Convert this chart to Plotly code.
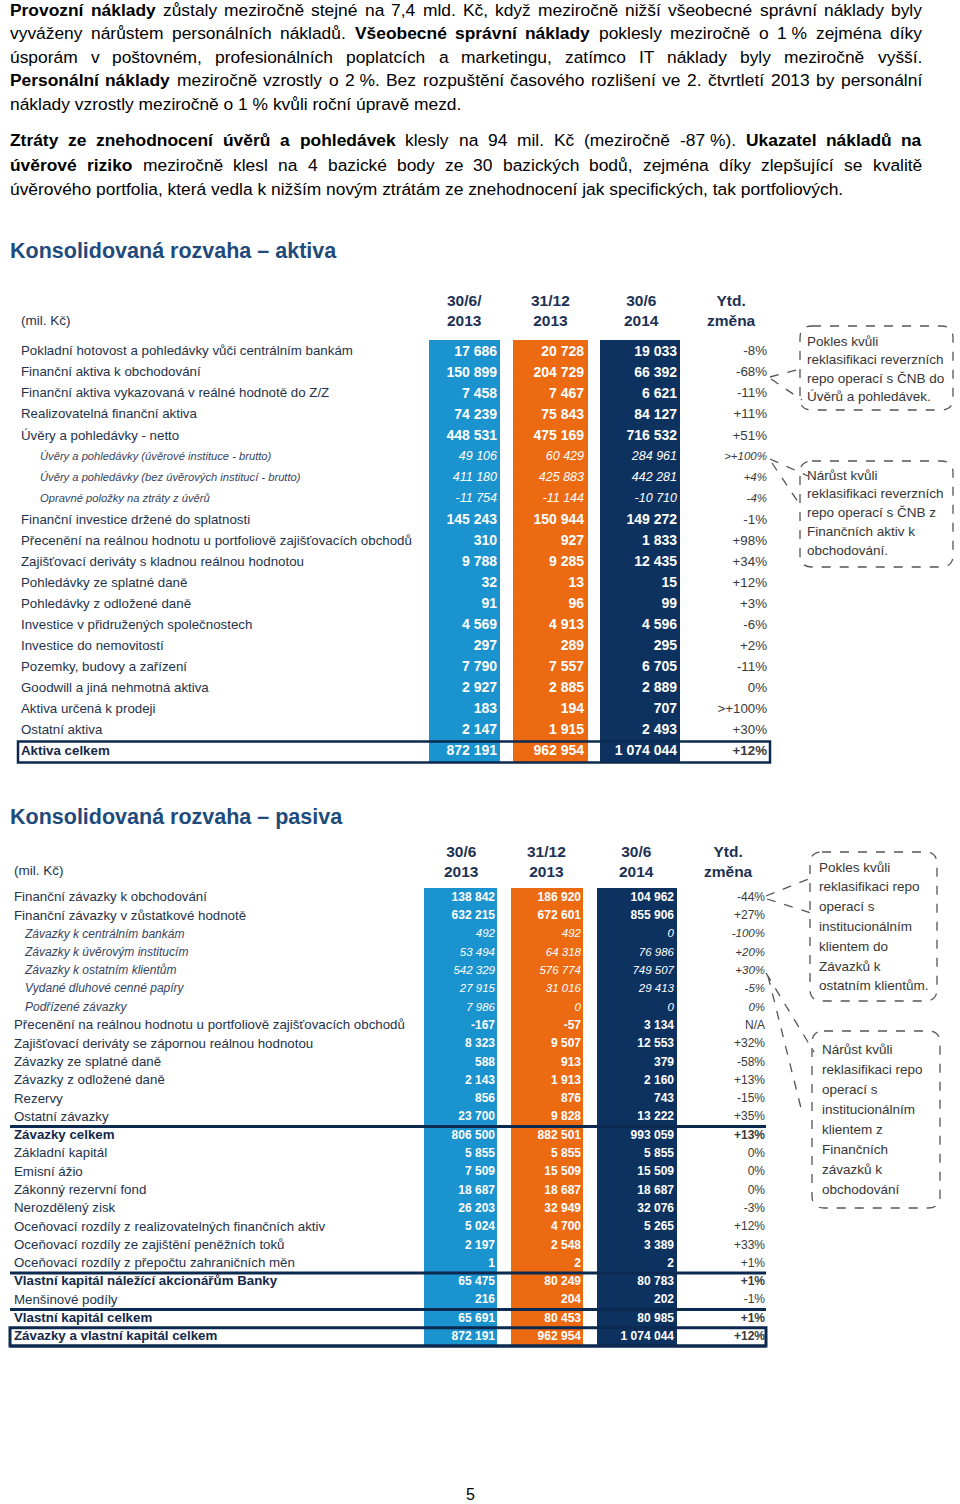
import unicodedata
import plotly.graph_objects as go

W, H = 960, 1504

# ---------------- data: aktiva ----------------
aktiva_labels = [
    "Pokladní hotovost a pohledávky vůči centrálním bankám",
    "Finanční aktiva k obchodování",
    "Finanční aktiva vykazovaná v reálné hodnotě do Z/Z",
    "Realizovatelná finanční aktiva",
    "Úvěry a pohledávky - netto",
    "Úvěry a pohledávky (úvěrové instituce - brutto)",
    "Úvěry a pohledávky (bez úvěrových institucí - brutto)",
    "Opravné položky na ztráty z úvěrů",
    "Finanční investice držené do splatnosti",
    "Přecenění na reálnou hodnotu u portfoliově zajišťovacích obchodů",
    "Zajišťovací deriváty s kladnou reálnou hodnotou",
    "Pohledávky ze splatné daně",
    "Pohledávky z odložené daně",
    "Investice v přidružených společnostech",
    "Investice do nemovitostí",
    "Pozemky, budovy a zařízení",
    "Goodwill a jiná nehmotná aktiva",
    "Aktiva určená k prodeji",
    "Ostatní aktiva",
    "Aktiva celkem",
]
aktiva_2013_06 = [17686, 150899, 7458, 74239, 448531, 49106, 411180, -11754, 145243, 310,
                  9788, 32, 91, 4569, 297, 7790, 2927, 183, 2147, 872191]
aktiva_2013_12 = [20728, 204729, 7467, 75843, 475169, 60429, 425883, -11144, 150944, 927,
                  9285, 13, 96, 4913, 289, 7557, 2885, 194, 1915, 962954]
aktiva_2014_06 = [19033, 66392, 6621, 84127, 716532, 284961, 442281, -10710, 149272, 1833,
                  12435, 15, 99, 4596, 295, 6705, 2889, 707, 2493, 1074044]
aktiva_ytd = ["-8%", "-68%", "-11%", "+11%", "+51%", ">+100%", "+4%", "-4%", "-1%", "+98%",
              "+34%", "+12%", "+3%", "-6%", "+2%", "-11%", "0%", ">+100%", "+30%", "+12%"]
aktiva_kind = ["n"] * 5 + ["i"] * 3 + ["n"] * 11 + ["b"]
aktiva_periods = [("30/6/", "2013"), ("31/12", "2013"), ("30/6", "2014"), ("Ytd.", "změna")]

# ---------------- data: pasiva ----------------
pasiva_labels = [
    "Finanční závazky k obchodování",
    "Finanční závazky v zůstatkové hodnotě",
    "Závazky k centrálním bankám",
    "Závazky k úvěrovým institucím",
    "Závazky k ostatním klientům",
    "Vydané dluhové cenné papíry",
    "Podřízené závazky",
    "Přecenění na reálnou hodnotu u portfoliově zajišťovacích obchodů",
    "Zajišťovací deriváty se zápornou reálnou hodnotou",
    "Závazky ze splatné daně",
    "Závazky z odložené daně",
    "Rezervy",
    "Ostatní závazky",
    "Závazky celkem",
    "Základní kapitál",
    "Emisní ážio",
    "Zákonný rezervní fond",
    "Nerozdělený zisk",
    "Oceňovací rozdíly z realizovatelných finančních aktiv",
    "Oceňovací rozdíly ze zajištění peněžních toků",
    "Oceňovací rozdíly z přepočtu zahraničních měn",
    "Vlastní kapitál náležící akcionářům Banky",
    "Menšinové podíly",
    "Vlastní kapitál celkem",
    "Závazky a vlastní kapitál celkem",
]
pasiva_2013_06 = [138842, 632215, 492, 53494, 542329, 27915, 7986, -167, 8323, 588, 2143, 856,
                  23700, 806500, 5855, 7509, 18687, 26203, 5024, 2197, 1, 65475, 216, 65691, 872191]
pasiva_2013_12 = [186920, 672601, 492, 64318, 576774, 31016, 0, -57, 9507, 913, 1913, 876,
                  9828, 882501, 5855, 15509, 18687, 32949, 4700, 2548, 2, 80249, 204, 80453, 962954]
pasiva_2014_06 = [104962, 855906, 0, 76986, 749507, 29413, 0, 3134, 12553, 379, 2160, 743,
                  13222, 993059, 5855, 15509, 18687, 32076, 5265, 3389, 2, 80783, 202, 80985, 1074044]
pasiva_ytd = ["-44%", "+27%", "-100%", "+20%", "+30%", "-5%", "0%", "N/A", "+32%", "-58%",
              "+13%", "-15%", "+35%", "+13%", "0%", "0%", "0%", "-3%", "+12%", "+33%",
              "+1%", "+1%", "-1%", "+1%", "+12%"]
pasiva_kind = ["n"] * 2 + ["i"] * 5 + ["n"] * 6 + ["b"] + ["n"] * 7 + ["b", "n", "b", "b"]
pasiva_periods = [("30/6", "2013"), ("31/12", "2013"), ("30/6", "2014"), ("Ytd.", "změna")]

# ---------------- text content ----------------
para_lines = [
    ([("Provozní náklady", 1), ("zůstaly meziročně stejné na 7,4 mld. Kč, když meziročně nižší všeobecné správní náklady byly", 0)], True),
    ([("vyváženy nárůstem personálních nákladů.", 0), ("Všeobecné správní náklady", 1), ("poklesly meziročně o 1\u00a0% zejména díky", 0)], True),
    ([("úsporám v poštovném, profesionálních poplatcích a marketingu, zatímco IT náklady byly meziročně vyšší.", 0)], True),
    ([("Personální náklady", 1), ("meziročně vzrostly o 2\u00a0%. Bez rozpuštění časového rozlišení ve 2. čtvrtletí 2013 by personální", 0)], True),
    ([("náklady vzrostly meziročně o 1\u00a0% kvůli roční úpravě mezd.", 0)], False),
    ([("Ztráty ze znehodnocení úvěrů a pohledávek", 1), ("klesly na 94 mil. Kč (meziročně -87\u00a0%).", 0), ("Ukazatel nákladů na", 1)], True),
    ([("úvěrové riziko", 1), ("meziročně klesl na 4 bazické body ze 30 bazických bodů, zejména díky zlepšující se kvalitě", 0)], True),
    ([("úvěrového portfolia, která vedla k nižším novým ztrátám ze znehodnocení jak specifických, tak portfoliových.", 0)], False),
]
title_aktiva = "Konsolidovaná rozvaha – aktiva"
title_pasiva = "Konsolidovaná rozvaha – pasiva"
unit_label = "(mil. Kč)"
note_aktiva_1 = ["Pokles kvůli", "reklasifikaci reverzních", "repo operací s ČNB do", "Úvěrů a pohledávek."]
note_aktiva_2 = ["Nárůst kvůli", "reklasifikaci reverzních", "repo operací s ČNB z", "Finančních aktiv k", "obchodování."]
note_pasiva_1 = ["Pokles kvůli", "reklasifikaci repo", "operací s", "institucionálním", "klientem do", "Závazků k", "ostatním klientům."]
note_pasiva_2 = ["Nárůst kvůli", "reklasifikaci repo", "operací s", "institucionálním", "klientem z", "Finančních", "závazků k", "obchodování"]
page_number = "5"

# ---------------- styles ----------------
BLUE = "#1b93cf"
ORANGE = "#ec6a12"
NAVY = "#0e3260"
LINE_NAVY = "#0c2a50"
HEAD = "#1c3154"
LAB = "#24324c"
LAB_I = "#364463"
YTD_C = "#3a3a3a"
TITLE_C = "#1f4a7c"
NOTE_C = "#363636"
DASH_C = "#555555"
SANS = "Liberation Sans"

REG = {' ': 278, 'a': 556, 'b': 556, 'c': 500, 'd': 556, 'e': 556, 'f': 278, 'g': 556, 'h': 556,
       'i': 222, 'j': 222, 'k': 500, 'l': 222, 'm': 833, 'n': 556, 'o': 556, 'p': 556, 'q': 556,
       'r': 333, 's': 500, 't': 278, 'u': 556, 'v': 500, 'w': 722, 'x': 500, 'y': 500, 'z': 500,
       'A': 667, 'B': 667, 'C': 722, 'D': 722, 'E': 667, 'F': 611, 'G': 778, 'H': 722, 'I': 278,
       'J': 500, 'K': 667, 'L': 556, 'M': 833, 'N': 722, 'O': 778, 'P': 667, 'Q': 778, 'R': 722,
       'S': 667, 'T': 611, 'U': 722, 'V': 667, 'W': 944, 'X': 667, 'Y': 667, 'Z': 611,
       '.': 278, ',': 278, '%': 889, '-': 333, '(': 333, ')': 333, ':': 278, '/': 278}
BOLD = {' ': 278, 'a': 556, 'b': 611, 'c': 556, 'd': 611, 'e': 556, 'f': 333, 'g': 611, 'h': 611,
        'i': 278, 'j': 278, 'k': 556, 'l': 278, 'm': 889, 'n': 611, 'o': 611, 'p': 611, 'q': 611,
        'r': 389, 's': 556, 't': 333, 'u': 611, 'v': 556, 'w': 778, 'x': 556, 'y': 556, 'z': 500,
        'A': 722, 'B': 722, 'C': 722, 'D': 722, 'E': 667, 'F': 611, 'G': 778, 'H': 722, 'I': 278,
        'J': 556, 'K': 722, 'L': 611, 'M': 833, 'N': 722, 'O': 778, 'P': 667, 'Q': 778, 'R': 722,
        'S': 667, 'T': 611, 'U': 722, 'V': 667, 'W': 944, 'X': 667, 'Y': 667, 'Z': 611,
        '.': 278, ',': 278, '%': 889, '-': 333, '(': 333, ')': 333, ':': 333, '/': 278}


def text_em(s, bold):
    tbl = BOLD if bold else REG
    tot = 0
    for ch in s:
        if ch.isdigit():
            tot += 556
        elif ch in tbl:
            tot += tbl[ch]
        elif ch == '\u00a0':
            tot += 278
        elif ch in 'íÍ':
            tot += 278
        else:
            base = unicodedata.normalize('NFD', ch)[0]
            tot += tbl.get(base, 556)
    return tot / 1000.0


def fmt(v):
    s = f"{abs(v):,}".replace(",", " ")
    return ("-" if v < 0 else "") + s


fig = go.Figure()
annotations = []
shapes = []


def page_text(x, y, text, size, color, anchor="left", family=SANS):
    annotations.append(dict(x=x, y=y, xref="x", yref="y", text=text, showarrow=False,
                            xanchor=anchor, yanchor="middle", borderpad=0, borderwidth=0,
                            font=dict(family=family, size=size, color=color)))


# ---------------- paragraph (justified) ----------------
FS_P = 17.4
XL, XR = 10, 922
para_y = [10, 33, 57, 80, 104, 140, 165, 189]
for (segs, justify), ly in zip(para_lines, para_y):
    if not justify:
        txt = " ".join(f"<b>{s}</b>" if b else s for s, b in segs)
        page_text(XL, ly, txt, FS_P, "#000000")
        continue
    words = [(w, b) for s, b in segs for w in s.split(" ") if w]
    widths = [text_em(w, b) * FS_P for w, b in words]
    gap = (XR - XL - sum(widths)) / (len(words) - 1)
    x = XL
    for k, ((w, b), wd) in enumerate(zip(words, widths)):
        t = f"<b>{w}</b>" if b else w
        if k == len(words) - 1:
            page_text(XR, ly, t, FS_P, "#000000", anchor="right")
        else:
            page_text(x, ly, t, FS_P, "#000000")
        x += wd + gap


# ---------------- tables ----------------
def add_table(yax, labels, kinds, cols, ytd, periods, g):
    n = len(labels)
    rows = list(range(n))
    # coloured columns
    for (cx, w, color) in g["bars"]:
        fig.add_trace(go.Bar(x=[cx], y=[(n - 1 + g["bot_pad"]) - g["top_pad"]], base=[g["top_pad"]],
                             width=[w], marker=dict(color=color, line=dict(width=0)),
                             xaxis="x", yaxis=yax, hoverinfo="skip", showlegend=False))
    # row labels
    lx = [g["lx_i"] if k == "i" else g["lx"] for k in kinds]
    lt = [f"<i>{l}</i>" if k == "i" else (f"<b>{l}</b>" if k == "b" else l) for l, k in zip(labels, kinds)]
    ls = [g["lab_fs_i"] if k == "i" else g["lab_fs"] for k in kinds]
    lc = [LAB_I if k == "i" else ("#14284a" if k == "b" else LAB) for k in kinds]
    fig.add_trace(go.Scatter(x=lx, y=rows, mode="text", text=lt, textposition="middle right",
                             textfont=dict(family=SANS, size=ls, color=lc),
                             xaxis="x", yaxis=yax, hoverinfo="skip", showlegend=False))
    # values
    for vals, xr in zip(cols, g["num_right"]):
        tt = [f"<i>{fmt(v)}</i>" if k == "i" else f"<b>{fmt(v)}</b>" for v, k in zip(vals, kinds)]
        ss = [g["num_fs_i"] if k == "i" else g["num_fs"] for k in kinds]
        fig.add_trace(go.Scatter(x=[xr] * n, y=rows, mode="text", text=tt, textposition="middle left",
                                 textfont=dict(family=SANS, size=ss, color="#ffffff"),
                                 xaxis="x", yaxis=yax, hoverinfo="skip", showlegend=False))
    # ytd change
    yt = [f"<i>{v}</i>" if k == "i" else (f"<b>{v}</b>" if k == "b" else v) for v, k in zip(ytd, kinds)]
    ys = [g["ytd_fs_i"] if k == "i" else g["ytd_fs"] for k in kinds]
    fig.add_trace(go.Scatter(x=[g["ytd_right"]] * n, y=rows, mode="text", text=yt, textposition="middle left",
                             textfont=dict(family=SANS, size=ys, color=YTD_C),
                             xaxis="x", yaxis=yax, hoverinfo="skip", showlegend=False))
    # column headers
    for (l1, l2), hx in zip(periods, g["head_x"]):
        page_text(hx, g["head_y"], f"<b>{l1}<br>{l2}</b>", 15.5, HEAD, anchor="center")
    # total rows: rules
    for i, k in enumerate(kinds):
        if k != "b":
            continue
        if g["box_all"] or i == n - 1:
            shapes.append(dict(type="rect", xref="x", yref=yax, x0=g["rule_x"][0], x1=g["rule_x"][1],
                               y0=i - 0.5, y1=i + 0.5, line=dict(color=LINE_NAVY, width=g["rule_w"]),
                               layer="above"))
        else:
            shapes.append(dict(type="line", xref="x", yref=yax, x0=g["rule_x"][0], x1=g["rule_x"][1],
                               y0=i - 0.5, y1=i - 0.5, line=dict(color=LINE_NAVY, width=g["rule_w"]),
                               layer="above"))


def row_axis(top_px, bot_px, row0_px, pitch):
    return dict(domain=[1 - bot_px / H, 1 - top_px / H],
                range=[(bot_px - row0_px) / pitch, (top_px - row0_px) / pitch],
                anchor="x", visible=False, fixedrange=True)


akt_geo = dict(bars=[(464.5, 71, BLUE), (550.5, 75, ORANGE), (640, 80, NAVY)],
               top_pad=-0.57, bot_pad=0.5, lx=21, lx_i=40, lab_fs=13.3, lab_fs_i=11.2,
               num_right=[497, 584, 677], num_fs=14, num_fs_i=12.5,
               ytd_right=767, ytd_fs=13.3, ytd_fs_i=11.5,
               head_x=[464, 550, 641, 731], head_y=310, box_all=True,
               rule_x=(18, 770), rule_w=2.5)
pas_geo = dict(bars=[(460.5, 73, BLUE), (547, 72, ORANGE), (637, 80, NAVY)],
               top_pad=-0.55, bot_pad=0.55, lx=14, lx_i=25, lab_fs=13.3, lab_fs_i=12,
               num_right=[495, 581, 674], num_fs=12, num_fs_i=11.5,
               ytd_right=765, ytd_fs=12, ytd_fs_i=11.5,
               head_x=[461, 546, 636, 728], head_y=861, box_all=False,
               rule_x=(10, 766), rule_w=3)

add_table("y2", aktiva_labels, aktiva_kind, [aktiva_2013_06, aktiva_2013_12, aktiva_2014_06],
          aktiva_ytd, aktiva_periods, akt_geo)
add_table("y3", pasiva_labels, pasiva_kind, [pasiva_2013_06, pasiva_2013_12, pasiva_2014_06],
          pasiva_ytd, pasiva_periods, pas_geo)
# bottom rule of pasiva
n_p = len(pasiva_labels)
shapes.append(dict(type="line", xref="x", yref="y3", x0=10, x1=766, y0=n_p - 0.5, y1=n_p - 0.5,
                   line=dict(color=LINE_NAVY, width=3), layer="above"))

# ---------------- titles & captions ----------------
page_text(10, 251, f"<b>{title_aktiva}</b>", 21.5, TITLE_C)
page_text(10, 817, f"<b>{title_pasiva}</b>", 21.5, TITLE_C)
page_text(21, 320, unit_label, 13.5, LAB)
page_text(14, 870, unit_label, 13.5, LAB)
page_text(466, 1494, page_number, 16, "#000000", anchor="left")


# ---------------- callouts ----------------
def rrect(x0, y0, x1, y1, r):
    return (f"M{x0 + r},{y0} L{x1 - r},{y0} Q{x1},{y0} {x1},{y0 + r} L{x1},{y1 - r} "
            f"Q{x1},{y1} {x1 - r},{y1} L{x0 + r},{y1} Q{x0},{y1} {x0},{y1 - r} "
            f"L{x0},{y0 + r} Q{x0},{y0} {x0 + r},{y0} Z")


def callout(box, lines, tx, ty0, pitch, tails):
    x0, y0, x1, y1 = box
    shapes.append(dict(type="path", xref="x", yref="y", path=rrect(x0, y0, x1, y1, 12),
                       line=dict(color=DASH_C, width=1.3, dash="dash"), layer="above"))
    for (ax, ay, bx, by) in tails:
        shapes.append(dict(type="line", xref="x", yref="y", x0=ax, y0=ay, x1=bx, y1=by,
                           line=dict(color=DASH_C, width=1.3, dash="dash"), layer="above"))
    for i, t in enumerate(lines):
        page_text(tx, ty0 + i * pitch, t, 13.5, NOTE_C)


callout((800, 326, 953, 410), note_aktiva_1, 807, 341, 18.5,
        [(770, 377, 800, 369), (771, 379, 802, 400)])
callout((800, 461, 953, 567), note_aktiva_2, 807, 475, 18.8,
        [(770, 459, 808, 476), (772, 463, 800, 505)])
callout((810, 852, 937, 1001), note_pasiva_1, 819, 867, 19.8,
        [(766, 896, 811, 878), (767, 899, 811, 913)])
callout((812, 1031, 940, 1208), note_pasiva_2, 822, 1049, 20.1,
        [(766, 973, 814, 1052), (768, 976, 801, 1108)])

fig.update_layout(
    width=W, height=H, margin=dict(l=0, r=0, t=0, b=0),
    paper_bgcolor="#ffffff", plot_bgcolor="#ffffff",
    showlegend=False, barmode="overlay",
    xaxis=dict(domain=[0, 1], range=[0, W], visible=False, fixedrange=True),
    yaxis=dict(domain=[0, 1], range=[H, 0], visible=False, fixedrange=True),
    yaxis2=row_axis(285, 772, 352, 21.05),
    yaxis3=row_axis(882, 1356, 898, 18.29),
    annotations=annotations, shapes=shapes,
)

fig.write_html("out.html", config={"displayModeBar": False, "staticPlot": True},
               post_script="document.body.style.margin='0';")
